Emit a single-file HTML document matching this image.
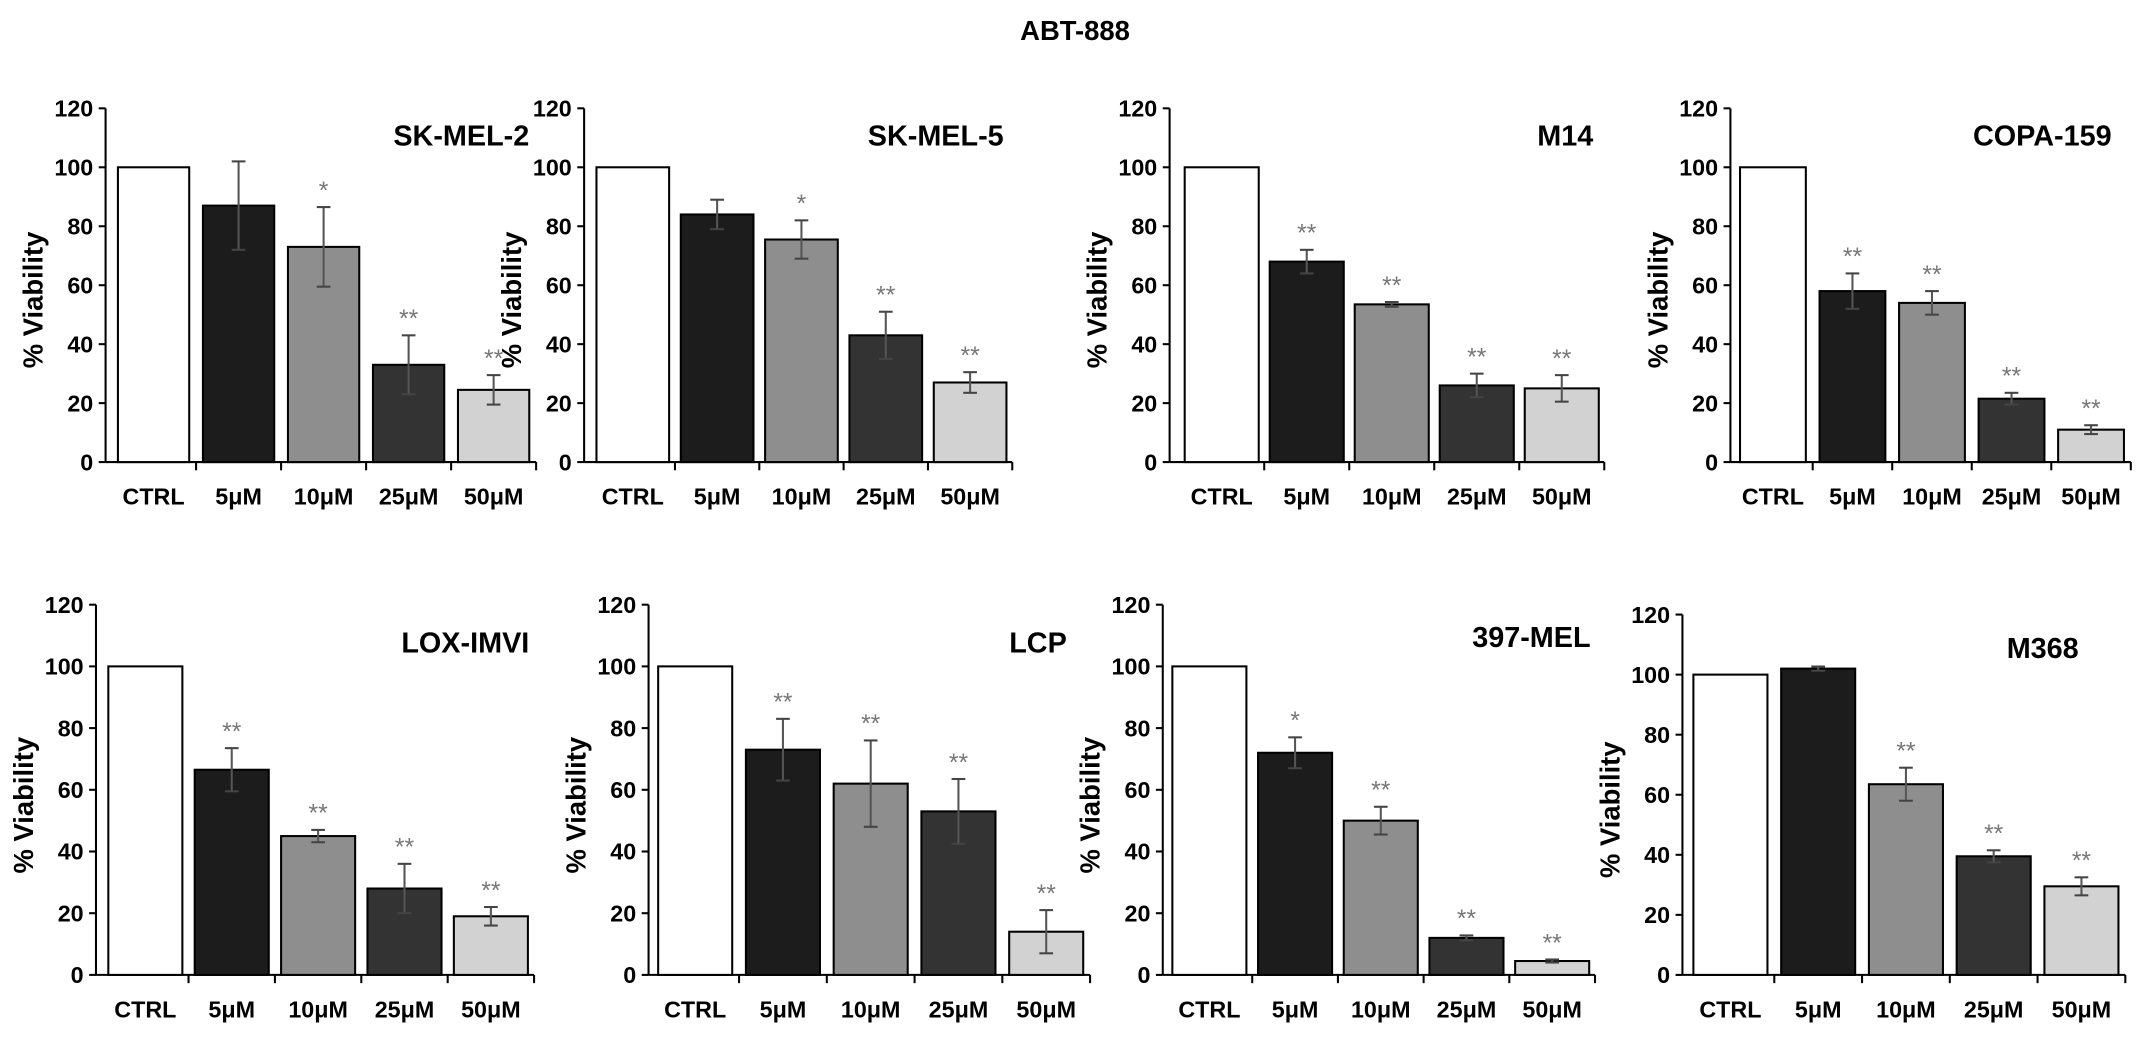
<!DOCTYPE html>
<html><head><meta charset="utf-8"><style>
html,body{margin:0;padding:0;background:#fff;}
svg{display:block;}
text{font-family:"Liberation Sans",Arial,sans-serif;}
</style></head><body>
<svg id="fig" width="2150" height="1041" viewBox="0 0 1568 759.2" xmlns="http://www.w3.org/2000/svg">
<text x="784" y="29" text-anchor="middle" font-size="20" font-weight="bold">ABT-888</text>
</svg>
<script>
const categories = ["CTRL","5μM","10μM","25μM","50μM"];
const panelTitles = ["SK-MEL-2","SK-MEL-5","M14","COPA-159","LOX-IMVI","LCP","397-MEL","M368"];
const viability1 = [100, 87, 73, 33, 24.5];
const viability2 = [100, 84, 75.5, 43, 27];
const viability3 = [100, 68, 53.5, 26, 25];
const viability4 = [100, 58, 54, 21.5, 11];
const viability5 = [100, 66.5, 45, 28, 19];
const viability6 = [100, 73, 62, 53, 14];
const viability7 = [100, 72, 50, 12, 4.5];
const viability8 = [100, 102, 63.5, 39.5, 29.5];
const errors1 = [0, 15, 13.5, 10, 5];
const errors2 = [0, 5, 6.5, 8, 3.5];
const errors3 = [0, 4, 0.8, 4, 4.5];
const errors4 = [0, 6, 4, 2, 1.5];
const errors5 = [0, 7, 2, 8, 3];
const errors6 = [0, 10, 14, 10.5, 7];
const errors7 = [0, 5, 4.5, 0.8, 0.5];
const errors8 = [0, 0.7, 5.5, 2, 3];
const stars1 = ["","","*","**","**"];
const stars2 = ["","","*","**","**"];
const stars3 = ["","**","**","**","**"];
const stars4 = ["","**","**","**","**"];
const stars5 = ["","**","**","**","**"];
const stars6 = ["","**","**","**","**"];
const stars7 = ["","*","**","**","**"];
const stars8 = ["","","**","**","**"];
const yTicks = [0,20,40,60,80,100,120];

const allVals=[viability1,viability2,viability3,viability4,viability5,viability6,viability7,viability8];
const allErr=[errors1,errors2,errors3,errors4,errors5,errors6,errors7,errors8];
const allStars=[stars1,stars2,stars3,stars4,stars5,stars6,stars7,stars8];
const fills=["#ffffff","#1c1c1c","#8e8e8e","#333333","#d2d2d2"];
// layout: axisX, firstBarX, pitch, barW, y0, pxPerUnit, titleRight, titleY
const layout=[
 [77,86,62,52,337,2.15,386,106],
 [426,435,61.5,53,337,2.15,732,106],
 [853,864,62,54,337,2.15,1162,106],
 [1262,1269,58,48,337,2.15,1540,106],
 [70,79,63,54,711,2.25,386,476],
 [473,480,64,54,711,2.25,778,476],
 [848,855,62.5,54,711,2.25,1160,472],
 [1227,1235,64,54,711,2.19,1516,480]
];
const NS="http://www.w3.org/2000/svg";
const svg=document.getElementById('fig');
function mk(tag,attrs,parent){const e=document.createElementNS(NS,tag);for(const k in attrs)e.setAttribute(k,attrs[k]);(parent||svg).appendChild(e);return e;}
for(let p=0;p<8;p++){
 const [ax,bx,pitch,bw,y0,k,tr,ty]=layout[p];
 const yS=v=>y0-v*k;
 const xS=i=>bx+i*pitch;
 const g=mk('g',{});
 
 
 const t=mk('text',{x:tr,y:ty,'text-anchor':'end','font-size':21,'font-weight':'bold'},g);
 t.textContent=panelTitles[p];
 
 
 const yl=mk('text',{transform:`translate(${ax-46},${yS(55)}) rotate(-90)`,'text-anchor':'middle','font-size':20,'font-weight':'bold'},g);
 yl.textContent='% Viability';
 
 
 const yaxis=mk('line',{x1:ax,y1:yS(120),x2:ax,y2:y0,stroke:'#000','stroke-width':1.5},g);
 
 
 yTicks.forEach(v=>{
  mk('line',{x1:ax-5,y1:yS(v),x2:ax,y2:yS(v),stroke:'#000','stroke-width':1.5},g);
  const tl=mk('text',{x:ax-9,y:yS(v)+6,'text-anchor':'end','font-size':17,'font-weight':'bold'},g);
  tl.textContent=v;
  
  
 });
 const xEnd=xS(4)+bw+(pitch-bw)/2;
 const xaxis=mk('line',{x1:ax,y1:y0,x2:xEnd,y2:y0,stroke:'#000','stroke-width':1.5},g);
 
 
 for(let i=0;i<5;i++){
  const tx=xS(i)+bw+(pitch-bw)/2;
  mk('line',{x1:tx,y1:y0,x2:tx,y2:y0+6,stroke:'#000','stroke-width':1.5},g);
 }
 const vals=allVals[p],errs=allErr[p],st=allStars[p];
 for(let i=0;i<5;i++){
  const x=xS(i),cx=x+bw/2;
  const r=mk('rect',{x:x,y:yS(vals[i]),width:bw,height:vals[i]*k,fill:fills[i],stroke:'#000','stroke-width':1.5},g);
  
  
  if(errs[i]>0){
   const top=yS(vals[i]+errs[i]),bot=yS(vals[i]-errs[i]);
   mk('line',{x1:cx,y1:top,x2:cx,y2:bot,stroke:'#555','stroke-width':1.5},g);
   mk('line',{x1:cx-5,y1:top,x2:cx+5,y2:top,stroke:'#444','stroke-width':1.5},g);
   mk('line',{x1:cx-5,y1:bot,x2:cx+5,y2:bot,stroke:'#444','stroke-width':1.5},g);
  }
  if(st[i]){
   const s=mk('text',{x:cx,y:yS(vals[i]+errs[i])-6,'text-anchor':'middle','font-size':18,fill:'#777'},g);
   s.textContent=st[i];
   
   
  }
  const xl=mk('text',{x:cx,y:y0+31,'text-anchor':'middle','font-size':17,'font-weight':'bold'},g);
  xl.textContent=categories[i];
  
  
 }
}
</script>
</body></html>
